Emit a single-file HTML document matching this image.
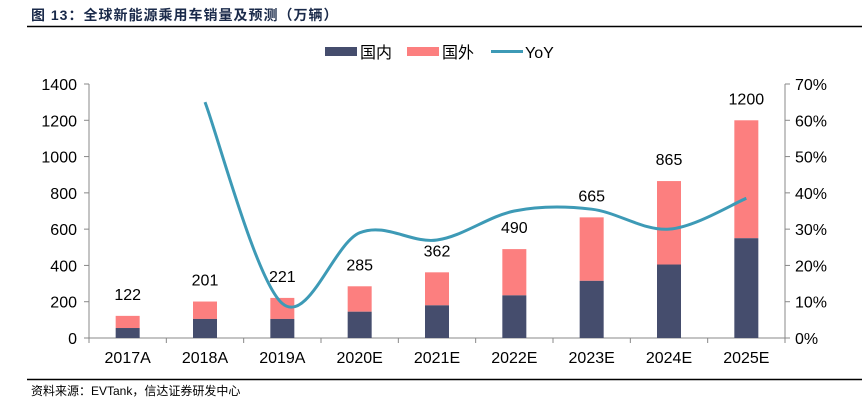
<!DOCTYPE html>
<html><head><meta charset="utf-8"><style>
body{margin:0;background:#fff;width:862px;height:408px;overflow:hidden;font-family:"Liberation Sans","Noto Sans CJK SC",sans-serif;}
</style></head><body>
<svg width="862" height="408" xmlns="http://www.w3.org/2000/svg" font-family="Liberation Sans, Noto Sans CJK SC, sans-serif">
<text x="31" y="20" font-size="14" font-weight="bold" letter-spacing="1" fill="#1a2a4a">图 13：全球新能源乘用车销量及预测（万辆）</text>
<line x1="27" y1="26.5" x2="862" y2="26.5" stroke="#000" stroke-width="1.5"/>
<line x1="27" y1="379.5" x2="862" y2="379.5" stroke="#000" stroke-width="1.5"/>
<text x="31" y="395" font-size="12" fill="#000">资料来源：EVTank，信达证券研发中心</text>
<g id="legend">
<rect x="325" y="47" width="32" height="9" fill="#454d6d"/>
<text x="360" y="58" font-size="16">国内</text>
<rect x="407" y="47" width="32" height="9" fill="#fc7f7f"/>
<text x="442" y="58" font-size="16">国外</text>
<line x1="491" y1="51.5" x2="523" y2="51.5" stroke="#3d9ab6" stroke-width="3"/>
<text x="525" y="58" font-size="16">YoY</text>
</g>
<g id="plot"></g>
</svg>
<script>
const categories=["2017A","2018A","2019A","2020E","2021E","2022E","2023E","2024E","2025E"];
const domestic=[55,105,105,145,180,235,315,405,550];
const totals=[122,201,221,285,362,490,665,865,1200];
const yoy=[null,65,9.5,29,27,35,35.5,30,38.5];
const leftTicks=[0,200,400,600,800,1000,1200,1400];
const rightTicks=[0,10,20,30,40,50,60,70];

const NS="http://www.w3.org/2000/svg";
const g=document.getElementById('plot');
const X0=89,X1=785,Y0=338,Y1=84;
const step=(X1-X0)/categories.length;
const xc=i=>X0+step*(i+0.5);
const yL=v=>Y0-(v/1400)*(Y0-Y1);
const yR=v=>Y0-(v/70)*(Y0-Y1);
function mk(tag,attrs){const e=document.createElementNS(NS,tag);for(const k in attrs)e.setAttribute(k,attrs[k]);g.appendChild(e);return e;}
let a=mk('line',{x1:X0,y1:Y0,x2:X1,y2:Y0,stroke:'#888','stroke-width':1});


a=mk('line',{x1:X0,y1:Y1,x2:X0,y2:Y0,stroke:'#888','stroke-width':1});


a=mk('line',{x1:X1,y1:Y1,x2:X1,y2:Y0,stroke:'#888','stroke-width':1});


leftTicks.forEach(v=>{
 mk('line',{x1:X0-5,y1:yL(v),x2:X0,y2:yL(v),stroke:'#888'});
 const t=mk('text',{x:X0-12,y:yL(v)+6,'font-size':16,'text-anchor':'end'});t.textContent=v;
 
 
});
rightTicks.forEach(v=>{
 mk('line',{x1:X1,y1:yR(v),x2:X1+5,y2:yR(v),stroke:'#888'});
 const t=mk('text',{x:X1+10,y:yR(v)+6,'font-size':16});t.textContent=v+'%';
 
 
});
for(let i=0;i<=categories.length;i++)mk('line',{x1:X0+step*i,y1:Y0,x2:X0+step*i,y2:Y0+5,stroke:'#888'});
categories.forEach((c,i)=>{
 const t=mk('text',{x:xc(i),y:Y0+25,'font-size':16,'text-anchor':'middle'});t.textContent=c;
 
 
 const bw=24;
 const f=mk('rect',{x:xc(i)-bw/2,y:yL(totals[i]),width:bw,height:yL(domestic[i])-yL(totals[i]),fill:'#fc7f7f'});
 
 
 const d=mk('rect',{x:xc(i)-bw/2,y:yL(domestic[i]),width:bw,height:Y0-yL(domestic[i]),fill:'#454d6d'});
 
 
 const l=mk('text',{x:xc(i),y:yL(totals[i])-16,'font-size':16,'text-anchor':'middle'});l.textContent=totals[i];
 
 
});
const pts=[];yoy.forEach((v,i)=>{if(v!==null)pts.push([xc(i),yR(v)]);});
let dstr='M'+pts[0][0]+','+pts[0][1];
for(let i=0;i<pts.length-1;i++){
 const p0=pts[i-1]||pts[i],p1=pts[i],p2=pts[i+1],p3=pts[i+2]||p2;
 const c1=[p1[0]+(p2[0]-p0[0])/6,p1[1]+(p2[1]-p0[1])/6];
 const c2=[p2[0]-(p3[0]-p1[0])/6,p2[1]-(p3[1]-p1[1])/6];
 dstr+=` C${c1[0]},${c1[1]} ${c2[0]},${c2[1]} ${p2[0]},${p2[1]}`;
}
const ln=mk('path',{d:dstr,fill:'none',stroke:'#3d9ab6','stroke-width':3});


</script>
</body></html>
